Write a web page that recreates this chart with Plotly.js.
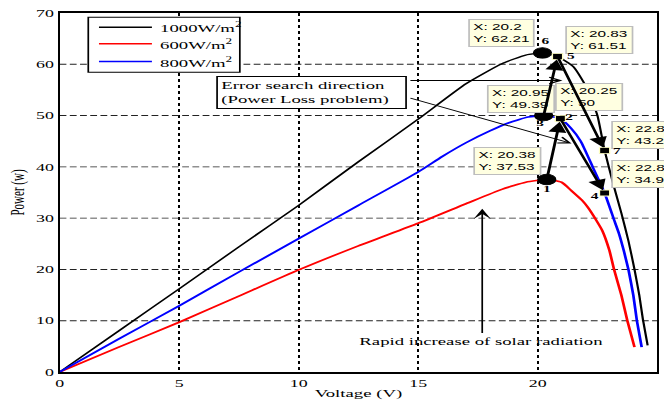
<!DOCTYPE html>
<html>
<head>
<meta charset="utf-8">
<script src="https://cdn.plot.ly/plotly-3.0.1.min.js"></script>
<style>
  html, body { margin: 0; padding: 0; background: #fff; overflow: hidden; width: 664px; height: 402px; }
  /* the figure is laid out narrow and widened horizontally */
  #wrap { width: 390px; height: 402px; transform: scaleX(1.7026); transform-origin: 0 0; }
</style>
</head>
<body>
<div id="wrap"></div>
<script>
// P-V curves of the PV array at three irradiance levels
const voltage1000 = [0, 2.5, 5, 7.5, 10, 12.5, 15, 17, 18.5, 19.5, 20.2, 20.83, 21.5, 22.1, 22.5, 22.8, 23.2, 23.5, 23.8, 24.05, 24.25, 24.4, 24.6];
const power1000   = [0, 8.1, 16.2, 24.4, 32.5, 41, 49.3, 56.2, 60.1, 61.8, 62.21, 61.51, 59.5, 55, 50, 43.2, 36, 31, 25.5, 20, 15, 10.3, 5.2];

const voltage600 = [0, 2.5, 5, 7.5, 10, 12.5, 15, 17, 18.5, 19.5, 20.38, 21.0, 21.4, 21.85, 22.1, 22.45, 22.7, 23.0, 23.2, 23.5, 23.75, 24.05];
const power600   = [0, 4.9, 9.7, 14.8, 19.9, 24.6, 29.0, 32.8, 35.6, 37.0, 37.53, 37.0, 35.4, 33.5, 32.1, 29.6, 27.6, 23.7, 19.9, 15, 10, 4.85];

const voltage800 = [0, 2.5, 5, 7.5, 10, 12.5, 15, 16, 17, 18, 18.8, 19.6, 20.25, 20.95, 21.4, 21.8, 22.3, 22.8, 23.2, 23.4, 23.6, 23.8, 24.0, 24.15, 24.35];
const power800   = [0, 6.5, 12.9, 19.5, 26, 32.5, 39.0, 42.0, 44.7, 47.0, 48.6, 49.7, 50, 49.39, 47.5, 45, 40, 34.9, 29.6, 27, 23.7, 19.9, 15, 10, 4.85];

const seriesNames  = ['1000W/m<sup>2</sup>', '600W/m<sup>2</sup>', '800W/m<sup>2</sup>'];
const seriesColors = ['#000000', '#ff0000', '#0000ff'];

// Operating points visited by the tracker
const pointIds  = ['6', '5', '3', '2', '7', '4', '1'];
const pointV    = [20.2, 20.83, 20.25, 20.95, 22.8, 22.8, 20.38];
const pointP    = [62.21, 61.51, 50, 49.39, 43.2, 34.9, 37.53];
const pointKind = ['circle', 'square', 'circle', 'square', 'square', 'square', 'circle'];

// Tracker steps: from point -> to point
const stepFrom = ['1', '3', '5', '2'];
const stepTo   = ['2', '5', '7', '4'];

const xTicks = [0, 5, 10, 15, 20, 25];
const yTicks = [0, 10, 20, 30, 40, 50, 60, 70];

const noteLoss  = 'Error search direction<br>(Power Loss problem)';
const noteRapid = 'Rapid increase of solar radiation';

const S = 1.7026;            // horizontal widening of the page
const serif = 'Liberation Serif, Times New Roman, serif';
const sans  = 'Liberation Sans, Arial, sans-serif';

const curveV = [voltage1000, voltage600, voltage800];
const curveP = [power1000, power600, power800];
const curveW = [1.3, 1.6, 1.6];

const traces = curveV.map((v, i) => ({
  x: v, y: curveP[i], type: 'scatter', mode: 'lines', name: seriesNames[i], showlegend: false,
  line: { color: seriesColors[i], width: curveW[i], shape: 'spline', smoothing: 0.5 },
  hoverinfo: 'skip'
}));

traces.push({
  x: pointV, y: pointP, type: 'scatter', mode: 'markers', showlegend: false, hoverinfo: 'skip',
  marker: {
    symbol: pointKind,
    size: pointKind.map(k => k === 'circle' ? 10.5 : 6),
    color: '#000000', opacity: 1,
    line: { color: pointKind.map(k => k === 'circle' ? '#000000' : '#ffffc0'), width: 0.8 }
  }
});

const idx = id => pointIds.indexOf(id);
const annotations = [];
const shapes = [];

// legend box drawn in paper space
shapes.push({ type: 'rect', xref: 'paper', yref: 'paper', x0: 0.048, x1: 0.3016, y0: 0.8351, y1: 0.9883,
  line: { color: '#000', width: 1 }, fillcolor: '#ffffff', layer: 'above' });
const legendRowY = [0.9605, 0.9142, 0.8649];
seriesNames.forEach((name, i) => {
  shapes.push({ type: 'line', xref: 'paper', yref: 'paper', x0: 0.0659, x1: 0.1545,
    y0: legendRowY[i], y1: legendRowY[i], line: { color: seriesColors[i], width: 1.5 }, layer: 'above' });
  annotations.push({ x: 0.1629, y: legendRowY[i], xref: 'paper', yref: 'paper', xanchor: 'left', yanchor: 'middle',
    showarrow: false, text: name, font: { family: serif, size: 11, color: '#000' } });
});

// data-tip boxes: left edge (V) and vertical centre (P)
const tipPlace = {
  '6': [17.07, 66.1], '5': [21.13, 64.83], '3': [20.75, 53.63], '2': [17.87, 53.14],
  '7': [23.09, 46.22], '4': [23.09, 38.62], '1': [17.28, 41.05]
};
pointIds.forEach((id, i) => {
  annotations.push({
    x: tipPlace[id][0], y: tipPlace[id][1], xref: 'x', yref: 'y',
    xanchor: 'left', yanchor: 'middle', showarrow: false, align: 'left',
    text: 'X: ' + pointV[i] + '<br>Y: ' + pointP[i],
    font: { family: sans, size: 9, color: '#000' },
    bgcolor: '#ffffe1', bordercolor: '#bdbdbd', borderwidth: 1, borderpad: 2
  });
});

// point numbers, offset from each marker (px on the page)
const numOffset = { '6': [2.7, -12.4], '5': [14, -1], '3': [-2.7, 7.4], '2': [8.6, -1.7], '7': [12.4, 0.7], '4': [-9.3, 3.3], '1': [0.6, 9.5] };
pointIds.forEach((id, i) => {
  annotations.push({
    x: pointV[i], y: pointP[i], xref: 'x', yref: 'y', showarrow: false,
    text: id, xshift: numOffset[id][0] / S, yshift: -numOffset[id][1],
    font: { family: serif, size: 9, color: '#000', weight: 'bold' }
  });
});

// tracker steps as thick arrows
stepFrom.forEach((f, k) => {
  const a = idx(f), b = idx(stepTo[k]);
  annotations.push({
    x: pointV[b], y: pointP[b], ax: pointV[a], ay: pointP[a],
    xref: 'x', yref: 'y', axref: 'x', ayref: 'y', text: '',
    showarrow: true, arrowhead: 2, arrowsize: 1.25, arrowwidth: 1.7, arrowcolor: '#000', standoff: 3
  });
});

// explanatory notes
annotations.push({
  x: 6.54, y: 54.5, xref: 'x', yref: 'y', xanchor: 'left', yanchor: 'middle',
  showarrow: false, align: 'left', text: noteLoss, width: 106,
  font: { family: serif, size: 11, color: '#000' },
  bgcolor: '#ffffff', bordercolor: '#000', borderwidth: 1, borderpad: 2
});
annotations.push({
  x: 21.42, y: 44.56, ax: 14.57, ay: 53.53, xref: 'x', yref: 'y', axref: 'x', ayref: 'y',
  text: '', showarrow: true, arrowhead: 5, arrowsize: 1.4, arrowwidth: 0.9, arrowcolor: '#000'
});
annotations.push({
  x: 21.04, y: 56.84, ax: 14.57, ay: 56.84, xref: 'x', yref: 'y', axref: 'x', ayref: 'y',
  text: '', showarrow: true, arrowhead: 5, arrowsize: 1.4, arrowwidth: 0.9, arrowcolor: '#000'
});
annotations.push({
  x: 17.68, y: 31.83, ax: 17.68, ay: 7.33, xref: 'x', yref: 'y', axref: 'x', ayref: 'y',
  text: '', showarrow: true, arrowhead: 3, arrowsize: 1.7, arrowwidth: 1, arrowcolor: '#000'
});
annotations.push({
  x: 17.66, y: 5.96, xref: 'x', yref: 'y', showarrow: false, text: noteRapid,
  font: { family: serif, size: 11, color: '#000' }
});

const layout = {
  width: 390, height: 402,
  margin: { l: 35, r: 3.7, t: 12.5, b: 30.4, pad: 0 },
  paper_bgcolor: '#ffffff', plot_bgcolor: '#ffffff',
  font: { family: serif, size: 11, color: '#000' },
  showlegend: false,
  xaxis: {
    range: [0, 25], tickvals: xTicks, ticktext: xTicks.map(String),
    showgrid: true, gridcolor: '#000', gridwidth: 1.1, griddash: '3px,3px',
    zeroline: false, showline: true, mirror: true, linecolor: '#000', linewidth: 2,
    ticks: '', tickfont: { family: serif, size: 10.5, color: '#000' },
    title: { text: 'Voltage (V)', font: { family: serif, size: 11, color: '#000' }, standoff: 2 }
  },
  yaxis: {
    range: [0, 70], tickvals: yTicks, ticktext: yTicks.map(String),
    showgrid: true, gridcolor: '#222', gridwidth: 0.9, griddash: '4px,2px',
    zeroline: false, showline: true, mirror: true, linecolor: '#000', linewidth: 1.2,
    ticks: '', tickfont: { family: serif, size: 10.5, color: '#000' },
    title: { text: 'Power (w)', font: { family: serif, size: 11, color: '#000' }, standoff: 4 }
  },
  shapes: shapes,
  annotations: annotations
};

Plotly.newPlot('wrap', traces, layout, { displayModeBar: false, staticPlot: true });
</script>
</body>
</html>
